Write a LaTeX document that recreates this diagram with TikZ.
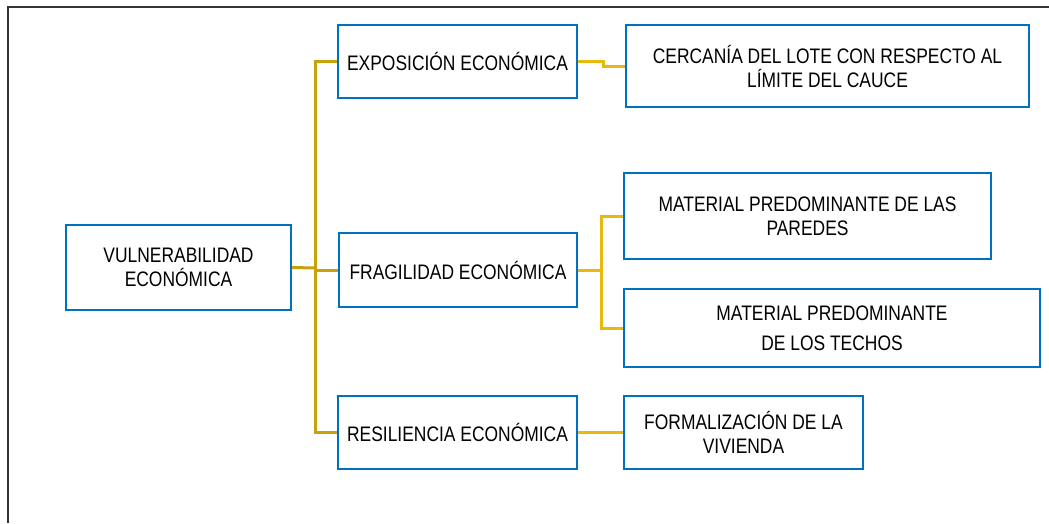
\documentclass[tikz,border=0pt]{standalone}
\usepackage{fontspec}
\setmainfont{Liberation Sans}[FakeStretch=0.83]
\definecolor{vBoxBlue}{HTML}{0070C0}
\definecolor{vTrunkGold}{HTML}{C9A10A}
\definecolor{vLinkGold}{HTML}{E8B90C}
\newcommand{\vBoxFont}{\fontsize{21}{24}\selectfont}

\begin{document}
\begin{tikzpicture}[x=1pt,y=-1pt,
  vbox/.style={draw=vBoxBlue, line width=2pt, fill=white, inner sep=0pt, align=center, font=\vBoxFont},
  trunkline/.style={draw=vTrunkGold, line width=3pt},
  linkline/.style={draw=vLinkGold, line width=3pt}]
\useasboundingbox (0,0) rectangle (1049,523);
\draw[black!80, line width=2pt] (8,523) -- (8,7) -- (1049,7);
\node[vbox, minimum width=225, minimum height=85] (vul) at (178.5,267.5) {VULNERABILIDAD\\ECONÓMICA};
\node[vbox, minimum width=239, minimum height=73] (expo) at (457.5,61.5) {EXPOSICIÓN ECONÓMICA};
\node[vbox, minimum width=238, minimum height=74] (frag) at (458,270) {FRAGILIDAD ECONÓMICA};
\node[vbox, minimum width=239, minimum height=73] (resil) at (457.5,432.5) {RESILIENCIA ECONÓMICA};
\node[vbox, minimum width=403, minimum height=82] (cerc) at (827.5,66) {CERCANÍA DEL LOTE CON RESPECTO AL\\LÍMITE DEL CAUCE};
\node[vbox, minimum width=367, minimum height=86] (pared) at (807.5,216) {MATERIAL PREDOMINANTE DE LAS\\PAREDES};
\node[vbox, minimum width=416, minimum height=78] (techo) at (832,328) {MATERIAL PREDOMINANTE\\[6pt]DE LOS TECHOS};
\node[vbox, minimum width=239, minimum height=73] (formal) at (743.5,432.5) {FORMALIZACIÓN DE LA\\VIVIENDA};
\coordinate (split) at (315,268);
\coordinate (fork) at (601,270);
\draw[trunkline] (vul.east) -- (split);
\draw[trunkline] (expo.west) -| (split) |- (resil.west);
\draw[trunkline] (split) |- (frag.west);
\draw[linkline] (expo.east) -- ++(25,0) |- (cerc.west);
\draw[linkline] (frag.east) -- (fork);
\draw[linkline] (pared.west) -| (fork) |- (techo.west);
\draw[linkline] (resil.east) -- (formal.west);
\end{tikzpicture}
\end{document}
